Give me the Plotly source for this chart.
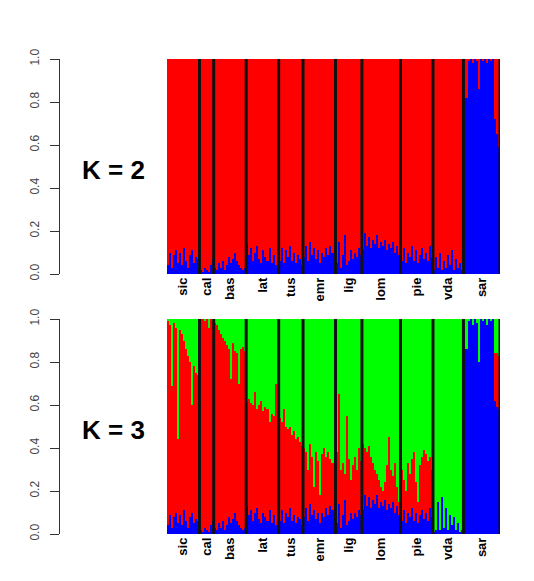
import plotly.graph_objects as go
import numpy as np

# populations, left to right, and how many individuals each holds
pops = ["sic", "cal", "bas", "lat", "tus", "emr", "lig", "lom", "pie", "vda", "sar"]
n_ind = [16, 7, 16, 16, 12, 16, 13, 19, 16, 15, 18]

# K = 2 : blue membership per individual (red is the rest)
k2_blue = {
    "sic": [0.04, 0.10, 0.03, 0.09, 0.11, 0.05, 0.10, 0.04, 0.12, 0.06, 0.03, 0.09, 0.11, 0.05, 0.08, 0.07],
    "cal": [0.02, 0.01, 0.03, 0.02, 0.01, 0.04, 0.07],
    "bas": [0.03, 0.02, 0.05, 0.03, 0.06, 0.02, 0.04, 0.08, 0.05, 0.07, 0.10, 0.06, 0.04, 0.03, 0.02, 0.03],
    "lat": [0.14, 0.09, 0.12, 0.06, 0.10, 0.13, 0.07, 0.05, 0.11, 0.08, 0.06, 0.12, 0.05, 0.09, 0.04, 0.07],
    "tus": [0.06, 0.12, 0.05, 0.11, 0.08, 0.13, 0.06, 0.10, 0.05, 0.09, 0.07, 0.04],
    "emr": [0.08, 0.13, 0.06, 0.15, 0.09, 0.12, 0.07, 0.11, 0.05, 0.10, 0.08, 0.12, 0.09, 0.13, 0.10, 0.07],
    "lig": [0.05, 0.15, 0.03, 0.09, 0.18, 0.04, 0.06, 0.11, 0.07, 0.10, 0.08, 0.12, 0.09],
    "lom": [0.11, 0.19, 0.13, 0.17, 0.12, 0.16, 0.14, 0.18, 0.12, 0.15, 0.13, 0.16, 0.11, 0.14, 0.12, 0.15, 0.10, 0.13, 0.09],
    "pie": [0.06, 0.12, 0.05, 0.10, 0.08, 0.13, 0.06, 0.11, 0.05, 0.09, 0.12, 0.07, 0.10, 0.06, 0.13, 0.08],
    "vda": [0.02, 0.08, 0.03, 0.10, 0.02, 0.06, 0.03, 0.09, 0.04, 0.11, 0.02, 0.07, 0.03, 0.05, 0.02],
    "sar": [0.97, 0.82, 0.99, 1.00, 0.98, 1.00, 0.99, 0.86, 1.00, 0.99, 1.00, 0.98, 1.00, 0.99, 1.00, 0.72, 0.65, 0.59],
}

# K = 3 : blue and red membership per individual (green is the rest)
k3_blue = {
    "sic": [0.04, 0.09, 0.03, 0.08, 0.10, 0.05, 0.09, 0.04, 0.11, 0.06, 0.03, 0.08, 0.10, 0.05, 0.07, 0.06],
    "cal": [0.02, 0.01, 0.03, 0.02, 0.01, 0.04, 0.06],
    "bas": [0.03, 0.02, 0.05, 0.03, 0.06, 0.02, 0.04, 0.08, 0.05, 0.07, 0.10, 0.06, 0.04, 0.03, 0.02, 0.03],
    "lat": [0.13, 0.09, 0.11, 0.06, 0.10, 0.12, 0.07, 0.05, 0.10, 0.08, 0.06, 0.11, 0.05, 0.09, 0.04, 0.07],
    "tus": [0.06, 0.11, 0.05, 0.10, 0.08, 0.12, 0.06, 0.09, 0.05, 0.08, 0.07, 0.04],
    "emr": [0.08, 0.12, 0.06, 0.14, 0.09, 0.11, 0.07, 0.10, 0.05, 0.10, 0.08, 0.12, 0.09, 0.13, 0.11, 0.07],
    "lig": [0.05, 0.14, 0.03, 0.09, 0.16, 0.04, 0.06, 0.10, 0.07, 0.10, 0.08, 0.11, 0.09],
    "lom": [0.11, 0.18, 0.13, 0.17, 0.12, 0.16, 0.14, 0.18, 0.12, 0.15, 0.13, 0.16, 0.11, 0.14, 0.12, 0.15, 0.10, 0.13, 0.09],
    "pie": [0.06, 0.11, 0.05, 0.10, 0.08, 0.12, 0.06, 0.10, 0.05, 0.09, 0.11, 0.07, 0.10, 0.06, 0.12, 0.08],
    "vda": [0.01, 0.02, 0.15, 0.02, 0.17, 0.03, 0.12, 0.02, 0.09, 0.04, 0.08, 0.02, 0.05, 0.01, 0.02],
    "sar": [0.96, 0.86, 0.99, 1.00, 0.97, 1.00, 0.98, 0.80, 1.00, 0.99, 1.00, 0.97, 1.00, 0.99, 1.00, 0.62, 0.59, 0.58],
}
k3_red = {
    "sic": [0.95, 0.88, 0.66, 0.90, 0.86, 0.39, 0.86, 0.89, 0.79, 0.80, 0.80, 0.72, 0.50, 0.73, 0.68, 0.68],
    "cal": [0.98, 0.99, 0.96, 0.98, 0.95, 0.96, 0.93],
    "bas": [0.95, 0.95, 0.90, 0.90, 0.85, 0.88, 0.84, 0.78, 0.67, 0.82, 0.75, 0.78, 0.66, 0.83, 0.85, 0.82],
    "lat": [0.49, 0.54, 0.50, 0.54, 0.56, 0.46, 0.53, 0.57, 0.47, 0.51, 0.52, 0.41, 0.51, 0.46, 0.66, 0.50],
    "tus": [0.48, 0.41, 0.53, 0.40, 0.41, 0.38, 0.40, 0.39, 0.39, 0.37, 0.36, 0.37],
    "emr": [0.32, 0.26, 0.24, 0.28, 0.27, 0.11, 0.31, 0.24, 0.13, 0.27, 0.32, 0.24, 0.29, 0.22, 0.22, 0.29],
    "lig": [0.33, 0.51, 0.27, 0.24, 0.12, 0.51, 0.29, 0.15, 0.25, 0.26, 0.22, 0.29, 0.25],
    "lom": [0.31, 0.22, 0.25, 0.24, 0.24, 0.17, 0.16, 0.10, 0.13, 0.07, 0.07, 0.08, 0.21, 0.31, 0.18, 0.12, 0.23, 0.09, 0.06],
    "pie": [0.24, 0.14, 0.15, 0.23, 0.20, 0.23, 0.32, 0.14, 0.10, 0.23, 0.25, 0.32, 0.27, 0.28, 0.24, 0.22],
    "vda": [0.00, 0.00, 0.00, 0.00, 0.00, 0.00, 0.00, 0.00, 0.00, 0.00, 0.00, 0.00, 0.00, 0.00, 0.00],
    "sar": [0.00, 0.00, 0.00, 0.00, 0.00, 0.00, 0.00, 0.00, 0.00, 0.00, 0.00, 0.00, 0.00, 0.00, 0.00, 0.22, 0.25, 0.25],
}

yticks = [0.0, 0.2, 0.4, 0.6, 0.8, 1.0]

W, H = 534, 581
RED, GREEN, BLUE = "#ff0000", "#00ff00", "#0000ff"
FONT = "Liberation Sans, Arial, sans-serif"

x = np.arange(sum(n_ind)) + 0.5
bounds = np.cumsum(n_ind)
centers = bounds - np.array(n_ind) / 2


def flat(d):
    return np.array([v for p in pops for v in d[p]])


b2 = flat(k2_blue)
b3 = flat(k3_blue)
r3 = flat(k3_red)

fig = go.Figure()

def bar(y, color, xa, ya):
    fig.add_trace(go.Bar(x=x, y=y, width=1, marker=dict(color=color, line_width=0),
                         xaxis=xa, yaxis=ya, showlegend=False, hoverinfo="skip"))

# top panel (K = 2)
bar(b2, BLUE, "x", "y")
bar(1 - b2, RED, "x", "y")
# bottom panel (K = 3)
bar(b3, BLUE, "x2", "y2")
bar(r3, RED, "x2", "y2")
bar(1 - b3 - r3, GREEN, "x2", "y2")

# population separators
for xa, ya in [("x", "y"), ("x2", "y2")]:
    for b in bounds:
        fig.add_shape(type="line", x0=b, x1=b, y0=0, y1=1, xref=xa, yref=ya,
                      line=dict(color="#111111", width=3), layer="above")

px = lambda v: v / W
py = lambda v: 1 - v / H

xdom = [px(167), px(500)]
xcommon = dict(domain=xdom, range=[0, sum(n_ind)], tickvals=centers, ticktext=pops,
               tickangle=-90, showgrid=False, zeroline=False, showline=False, ticks="",
               automargin=False,
               tickfont=dict(family=FONT, size=13, color="#000000", weight="bold"))
ycommon = dict(range=[0, 1], anchor="free", position=px(59), tickvals=yticks,
               ticktext=["%.1f" % v for v in yticks], tickangle=-90, ticks="outside",
               ticklen=9, tickwidth=1, tickcolor="#333333", showline=True, linecolor="#333333",
               linewidth=1, showgrid=False, zeroline=False, automargin=False,
               ticklabelstandoff=6,
               tickfont=dict(family=FONT, size=12, color="#444444"))

fig.update_layout(
    width=W, height=H,
    margin=dict(l=0, r=0, t=0, b=0),
    paper_bgcolor="white", plot_bgcolor="white",
    barmode="stack", bargap=0,
    xaxis=dict(xcommon, anchor="y"),
    yaxis=dict(ycommon, domain=[py(274), py(59)]),
    xaxis2=dict(xcommon, anchor="y2"),
    yaxis2=dict(ycommon, domain=[py(534), py(319)]),
    annotations=[
        dict(text="<b>K = 2</b>", x=px(113), y=py(170), xref="paper", yref="paper",
             xanchor="center", yanchor="middle", showarrow=False,
             font=dict(family=FONT, size=26, color="#000000")),
        dict(text="<b>K = 3</b>", x=px(113), y=py(430), xref="paper", yref="paper",
             xanchor="center", yanchor="middle", showarrow=False,
             font=dict(family=FONT, size=26, color="#000000")),
    ],
)

fig.write_html("out.html", config={"displayModeBar": False},
               post_script="document.body.style.margin='0';")
